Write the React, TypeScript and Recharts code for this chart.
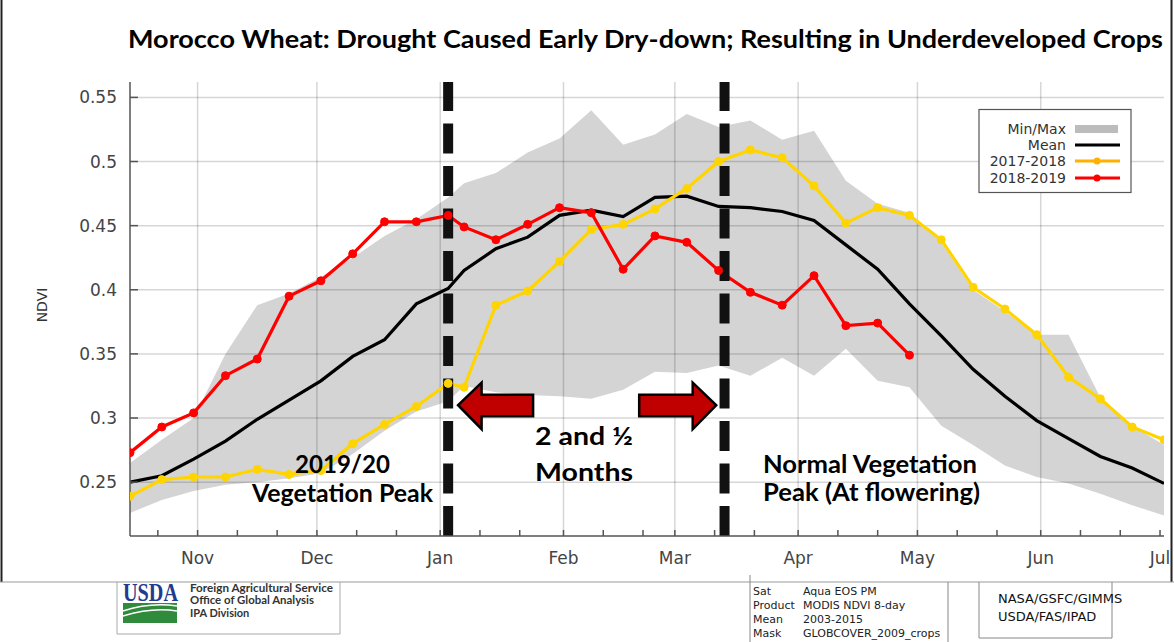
import React from 'react';
import { ComposedChart, Area, Line, XAxis, YAxis, ReferenceLine, ReferenceDot } from 'recharts';

// x = days from 1 Nov (8-day MODIS composites)
const days = [-17, -9, -1, 7, 15, 23, 31, 39, 47, 55, 63, 67, 75, 83, 91, 99, 107, 115, 123, 131, 139, 147, 155, 163, 171, 179, 187, 195, 203, 211, 219, 227, 235, 243];
const ndviMin = [0.226, 0.236, 0.243, 0.248, 0.250, 0.253, 0.257, 0.272, 0.290, 0.305, 0.313, 0.325, 0.320, 0.318, 0.317, 0.315, 0.322, 0.336, 0.335, 0.341, 0.333, 0.347, 0.333, 0.354, 0.329, 0.324, 0.294, 0.279, 0.263, 0.254, 0.249, 0.241, 0.232, 0.224];
const ndviMax = [0.265, 0.283, 0.300, 0.350, 0.388, 0.397, 0.410, 0.425, 0.442, 0.455, 0.472, 0.483, 0.491, 0.507, 0.518, 0.540, 0.513, 0.521, 0.537, 0.527, 0.532, 0.517, 0.524, 0.485, 0.467, 0.460, 0.437, 0.400, 0.383, 0.365, 0.365, 0.316, 0.294, 0.279];
const ndviMean = [0.250, 0.255, 0.268, 0.282, 0.299, 0.314, 0.329, 0.348, 0.361, 0.389, 0.401, 0.415, 0.432, 0.441, 0.458, 0.462, 0.457, 0.472, 0.473, 0.465, 0.464, 0.461, 0.454, 0.435, 0.416, 0.389, 0.364, 0.338, 0.317, 0.298, 0.284, 0.270, 0.261, 0.249];
const ndvi1718 = [0.239, 0.252, 0.254, 0.254, 0.260, 0.256, 0.259, 0.280, 0.295, 0.309, 0.327, 0.324, 0.388, 0.399, 0.422, 0.447, 0.451, 0.463, 0.479, 0.500, 0.509, 0.503, 0.481, 0.452, 0.464, 0.458, 0.439, 0.402, 0.385, 0.365, 0.332, 0.315, 0.293, 0.283];
const ndvi1819 = [0.273, 0.293, 0.304, 0.333, 0.346, 0.395, 0.407, 0.428, 0.453, 0.453, 0.458, 0.449, 0.439, 0.451, 0.464, 0.460, 0.416, 0.442, 0.437, 0.415, 0.398, 0.388, 0.411, 0.372, 0.374, 0.349];

const monthTicks = [0, 30, 61, 92, 120, 151, 181, 212, 242];
const monthLabels = ['Nov', 'Dec', 'Jan', 'Feb', 'Mar', 'Apr', 'May', 'Jun', 'Jul'];
const dekadTicks = [-10, 10, 20, 40, 50, 71, 81, 102, 112, 130, 140, 161, 171, 191, 201, 222, 232];
const yTicks = [0.25, 0.3, 0.35, 0.4, 0.45, 0.5, 0.55];
const yTickLabels = ['0.25', '0.3', '0.35', '0.4', '0.45', '0.5', '0.55'];
const xDomain = [-17, 243];
const yDomain = [0.208, 0.562];

const earlyPeakDay = 63;
const normalPeakDay = 132.5;
const arrowLeftTip = { x: 65.5, y: 0.31 };
const arrowRightTip = { x: 130.4, y: 0.31 };

const data = days.map((x, i) => ({
  x,
  range: [ndviMin[i], ndviMax[i]],
  mean: ndviMean[i],
  y1718: ndvi1718[i],
  y1819: i < ndvi1819.length ? ndvi1819[i] : null,
}));

const allXTicks = [...monthTicks, ...dekadTicks].sort((a, b) => a - b);
const fmtX = (v: number) => {
  const i = monthTicks.indexOf(v);
  return i >= 0 ? monthLabels[i] : '';
};
const fmtY = (v: number) => {
  const i = yTicks.findIndex((t) => Math.abs(t - v) < 1e-6);
  return i >= 0 ? yTickLabels[i] : '';
};

const AXIS = '#555';
const GRID = 'rgba(0,0,0,0.16)';
const tickFont = { fill: '#444', fontSize: 17, fontFamily: 'DejaVu Sans' };

const LeftArrow = (p: any) => {
  const { cx, cy } = p;
  const pts = [[0, 0], [23.5, -22.5], [23.5, -10.5], [75, -10.5], [75, 11], [23.5, 11], [23.5, 24]]
    .map(([dx, dy]) => `${cx + dx},${cy + dy}`).join(' ');
  return <polygon points={pts} fill="#c00000" stroke="#000" strokeWidth={2.5} strokeLinejoin="miter" />;
};
const RightArrow = (p: any) => {
  const { cx, cy } = p;
  const pts = [[0, 0], [-23.5, -22.5], [-23.5, -10.5], [-77, -10.5], [-77, 11], [-23.5, 11], [-23.5, 24]]
    .map(([dx, dy]) => `${cx + dx},${cy + dy}`).join(' ');
  return <polygon points={pts} fill="#c00000" stroke="#000" strokeWidth={2.5} strokeLinejoin="miter" />;
};

const bold = { fontFamily: 'Lato', fontWeight: 700 as const, fill: '#000' };

export default function App() {
  return (
    <div style={{ position: 'fixed', left: 0, top: 0, width: 1174, height: 642, background: '#fff', overflow: 'hidden' }}>
      <ComposedChart width={1174} height={642} data={data} margin={{ top: 82, right: 10, bottom: 60, left: 60 }}>
        <XAxis
          dataKey="x"
          type="number"
          domain={xDomain}
          ticks={allXTicks}
          interval={0}
          tickFormatter={fmtX}
          tickSize={-6}
          tickMargin={22}
          height={46}
          tick={tickFont}
          tickLine={{ stroke: AXIS, strokeWidth: 1.5 }}
          axisLine={{ stroke: AXIS, strokeWidth: 1.5 }}
          allowDataOverflow
        />
        <XAxis
          xAxisId="t"
          orientation="top"
          type="number"
          domain={xDomain}
          ticks={allXTicks}
          interval={0}
          tickFormatter={() => ''}
          tickSize={-6}
          height={0}
          tickLine={{ stroke: AXIS, strokeWidth: 1.5 }}
          axisLine={{ stroke: AXIS, strokeWidth: 1.5 }}
          allowDataOverflow
        />
        <YAxis
          type="number"
          domain={yDomain}
          ticks={yTicks}
          interval={0}
          tickFormatter={fmtY}
          tickSize={-8}
          tickMargin={21}
          width={70}
          tick={tickFont}
          tickLine={{ stroke: AXIS, strokeWidth: 1.5 }}
          axisLine={{ stroke: AXIS, strokeWidth: 1.5 }}
          allowDataOverflow
        />
        <YAxis
          yAxisId="r"
          orientation="right"
          type="number"
          domain={yDomain}
          ticks={yTicks}
          interval={0}
          tickFormatter={() => ''}
          tickSize={-8}
          width={0}
          tickLine={{ stroke: AXIS, strokeWidth: 1.5 }}
          axisLine={{ stroke: AXIS, strokeWidth: 1.5 }}
          allowDataOverflow
        />
        <Area dataKey="range" fill="#d4d4d4" fillOpacity={1} stroke="none" isAnimationActive={false} />
        {monthTicks.slice(0, -1).map((m) => (
          <ReferenceLine key={'gx' + m} x={m} stroke={GRID} strokeWidth={1.5} zIndex={150} />
        ))}
        {yTicks.map((t) => (
          <ReferenceLine key={'gy' + t} y={t} stroke={GRID} strokeWidth={1.5} zIndex={150} />
        ))}
        <Line dataKey="mean" stroke="#000" strokeWidth={3.2} dot={false} isAnimationActive={false} zIndex={400} />
        <Line dataKey="y1718" stroke="#ffd400" strokeWidth={3.2} dot={{ r: 4, fill: '#ffd400', stroke: '#ffd400', strokeWidth: 1 }} isAnimationActive={false} zIndex={410} />
        <Line dataKey="y1819" stroke="#ff0000" strokeWidth={3.2} dot={{ r: 4, fill: '#ff0000', stroke: '#ff0000', strokeWidth: 1 }} isAnimationActive={false} zIndex={420} />
        <ReferenceLine x={earlyPeakDay} stroke="#111" strokeWidth={10} strokeDasharray="30 12.5" zIndex={450} />
        <ReferenceLine x={normalPeakDay} stroke="#111" strokeWidth={10} strokeDasharray="30 12.5" zIndex={450} />
        <ReferenceDot x={arrowLeftTip.x} y={arrowLeftTip.y} r={1} shape={LeftArrow} zIndex={700} />
        <ReferenceDot x={arrowRightTip.x} y={arrowRightTip.y} r={1} shape={RightArrow} zIndex={700} />
      </ComposedChart>

      <svg width={1174} height={642} style={{ position: 'absolute', left: 0, top: 0, pointerEvents: 'none' }}>
        {/* frame */}
        <line x1={1.5} y1={0} x2={1.5} y2={582} stroke="#222" strokeWidth={2} />
        <line x1={1171.5} y1={0} x2={1171.5} y2={582} stroke="#222" strokeWidth={2} />
        <line x1={0} y1={582} x2={1174} y2={582} stroke="#999" strokeWidth={1} />

        {/* title */}
        <text x={128} y={48} fontSize={24} textLength={1035} lengthAdjust="spacingAndGlyphs" {...bold}>
          Morocco Wheat: Drought Caused Early Dry-down; Resulting in Underdeveloped Crops
        </text>

        {/* y label */}
        <text x={0} y={0} transform="translate(47,305) rotate(-90)" textAnchor="middle" fontSize={14} fontFamily="DejaVu Sans" fill="#333">
          NDVI
        </text>

        {/* annotations */}
        <text x={295} y={473} fontSize={25} textLength={95} lengthAdjust="spacingAndGlyphs" {...bold}>2019/20</text>
        <text x={252} y={502} fontSize={25} textLength={181} lengthAdjust="spacingAndGlyphs" {...bold}>Vegetation Peak</text>
        <text x={535} y={445} fontSize={25} textLength={98} lengthAdjust="spacingAndGlyphs" {...bold}>2 and ½</text>
        <text x={535} y={481} fontSize={25} textLength={98} lengthAdjust="spacingAndGlyphs" {...bold}>Months</text>
        <text x={763} y={473} fontSize={25} textLength={214} lengthAdjust="spacingAndGlyphs" {...bold}>Normal Vegetation</text>
        <text x={763} y={501} fontSize={25} textLength={217} lengthAdjust="spacingAndGlyphs" {...bold}>Peak (At flowering)</text>

        {/* legend */}
        <rect x={979} y={109.5} width={152} height={83} fill="#fff" stroke="#555" strokeWidth={1.2} />
        <g fontFamily="DejaVu Sans" fontSize={14} fill="#333" textAnchor="end">
          <text x={1066} y={134}>Min/Max</text>
          <text x={1066} y={150}>Mean</text>
          <text x={1066} y={166}>2017-2018</text>
          <text x={1066} y={183}>2018-2019</text>
        </g>
        <rect x={1075} y={125} width={43} height={8} fill="#bcbcbc" />
        <line x1={1075} y1={145} x2={1120} y2={145} stroke="#000" strokeWidth={3} />
        <line x1={1075} y1={161} x2={1120} y2={161} stroke="#ffb000" strokeWidth={3} />
        <circle cx={1097} cy={161} r={3.5} fill="#ffb000" />
        <line x1={1075} y1={178} x2={1120} y2={178} stroke="#ff0000" strokeWidth={3} />
        <circle cx={1097} cy={178} r={3.5} fill="#ff0000" />

        {/* USDA block */}
        <polyline points="117,582 117,634 340,634 340,582" fill="none" stroke="#aaa" strokeWidth={1} />
        <text x={123} y={601} fontSize={25} fontFamily="Liberation Sans Narrow" fontWeight={700} fill="#233a8e" textLength={55} lengthAdjust="spacingAndGlyphs">USDA</text>
        <rect x={123} y={603} width={54} height={20} fill="#2f8a3c" />
        <path d="M123,611 Q150,602 177,606" stroke="#fff" strokeWidth={1.6} fill="none" />
        <path d="M123,616 Q152,607 177,611" stroke="#fff" strokeWidth={1.4} fill="none" />
        <g fontFamily="Lato" fontWeight={700} fontSize={11} fill="#333">
          <text x={190} y={592} textLength={143} lengthAdjust="spacingAndGlyphs">Foreign Agricultural Service</text>
          <text x={190} y={604} textLength={124} lengthAdjust="spacingAndGlyphs">Office of Global Analysis</text>
          <text x={190} y={617}>IPA Division</text>
        </g>

        {/* Sat block */}
        <line x1={750} y1={575} x2={750} y2={642} stroke="#888" strokeWidth={1} />
        <g fontFamily="DejaVu Sans" fontSize={11} fill="#222">
          <text x={753} y={595}>Sat</text>
          <text x={753} y={609}>Product</text>
          <text x={753} y={623}>Mean</text>
          <text x={753} y={637}>Mask</text>
          <text x={803} y={595}>Aqua EOS PM</text>
          <text x={803} y={609}>MODIS NDVI 8-day</text>
          <text x={803} y={623}>2003-2015</text>
          <text x={803} y={637}>GLOBCOVER_2009_crops</text>
        </g>

        {/* NASA block */}
        <line x1={948} y1={582} x2={948} y2={642} stroke="#888" strokeWidth={1} />
        <polyline points="979,582 979,638 1112,638 1112,582" fill="none" stroke="#888" strokeWidth={1} />
        <g fontFamily="DejaVu Sans" fontSize={13} fill="#111">
          <text x={998} y={603}>NASA/GSFC/GIMMS</text>
          <text x={998} y={621}>USDA/FAS/IPAD</text>
        </g>
      </svg>
    </div>
  );
}
